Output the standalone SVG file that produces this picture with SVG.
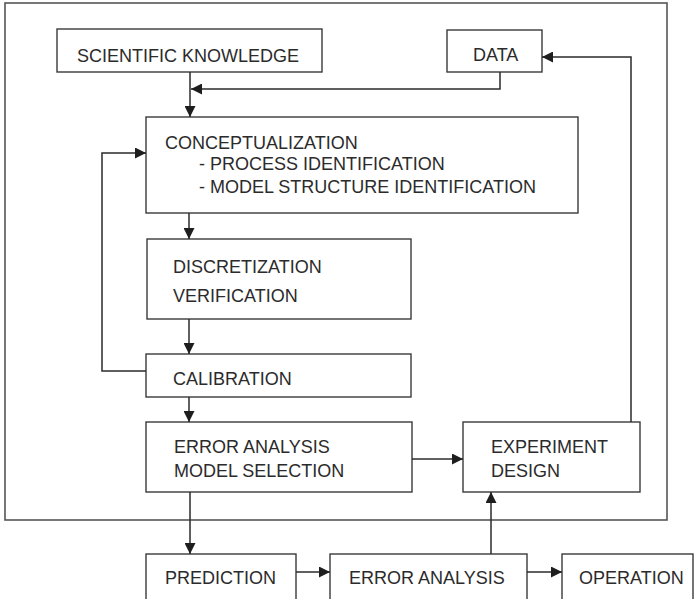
<svg xmlns="http://www.w3.org/2000/svg" width="694" height="599" viewBox="0 0 694 599">
  <style>
    .box { fill: #ffffff; stroke: #3a3a3a; stroke-width: 1.4; }
    .frame { fill: none; stroke: #555555; stroke-width: 1.6; }
    .lbl { font-family: "Liberation Sans", Arial, sans-serif; font-size: 18px; fill: #2b2b2b; }
    .wire { fill: none; stroke: #2b2b2b; stroke-width: 1.5; }
  </style>
  <defs>
    <marker id="arrow" viewBox="0 0 10 10" refX="10" refY="5" markerWidth="11" markerHeight="11" markerUnits="userSpaceOnUse" orient="auto">
      <path d="M0,0 L10,5 L0,10 Z" fill="#1e1e1e"/>
    </marker>
  </defs>
  <rect width="694" height="599" fill="#ffffff"/>

  <!-- enclosing frame of the modelling loop -->
  <rect class="frame" x="5" y="3" width="662" height="517"/>

  <g id="scientific-knowledge">
    <rect class="box" x="57" y="29" width="265" height="43"/>
    <text class="lbl" x="77" y="62">SCIENTIFIC KNOWLEDGE</text>
  </g>

  <g id="data">
    <rect class="box" x="447" y="30" width="95" height="42"/>
    <text class="lbl" x="473" y="61">DATA</text>
  </g>

  <g id="conceptualization">
    <rect class="box" x="146" y="117" width="432" height="96"/>
    <text class="lbl" x="165" y="149">CONCEPTUALIZATION</text>
    <text class="lbl" x="199" y="170">- PROCESS IDENTIFICATION</text>
    <text class="lbl" x="199" y="193">- MODEL STRUCTURE IDENTIFICATION</text>
  </g>

  <g id="discretization">
    <rect class="box" x="147" y="239" width="264" height="80"/>
    <text class="lbl" x="173" y="273">DISCRETIZATION</text>
    <text class="lbl" x="173" y="302">VERIFICATION</text>
  </g>

  <g id="calibration">
    <rect class="box" x="146" y="354" width="265" height="43"/>
    <text class="lbl" x="173" y="385">CALIBRATION</text>
  </g>

  <g id="error-analysis-model-selection">
    <rect class="box" x="146" y="422" width="266" height="70"/>
    <text class="lbl" x="174" y="453">ERROR ANALYSIS</text>
    <text class="lbl" x="174" y="477">MODEL SELECTION</text>
  </g>

  <g id="experiment-design">
    <rect class="box" x="463" y="422" width="177" height="70"/>
    <text class="lbl" x="491" y="453">EXPERIMENT</text>
    <text class="lbl" x="491" y="477">DESIGN</text>
  </g>

  <g id="prediction">
    <rect class="box" x="146" y="554" width="150" height="50"/>
    <text class="lbl" x="165" y="584">PREDICTION</text>
  </g>

  <g id="error-analysis">
    <rect class="box" x="330" y="554" width="197" height="50"/>
    <text class="lbl" x="349" y="584">ERROR ANALYSIS</text>
  </g>

  <g id="operation">
    <rect class="box" x="562" y="554" width="131" height="50"/>
    <text class="lbl" x="579" y="584">OPERATION</text>
  </g>

  <g id="connectors">
    <!-- knowledge and data feed conceptualization -->
    <line class="wire" x1="190" y1="72" x2="190" y2="117" marker-end="url(#arrow)"/>
    <polyline class="wire" points="500,72 500,89 191,89" marker-end="url(#arrow)"/>
    <!-- main chain -->
    <line class="wire" x1="189" y1="213" x2="189" y2="239" marker-end="url(#arrow)"/>
    <line class="wire" x1="189" y1="319" x2="189" y2="354" marker-end="url(#arrow)"/>
    <line class="wire" x1="189" y1="397" x2="189" y2="422" marker-end="url(#arrow)"/>
    <!-- calibration feedback -->
    <polyline class="wire" points="146,371 102,371 102,153 146,153" marker-end="url(#arrow)"/>
    <!-- model selection to experiment design -->
    <line class="wire" x1="412" y1="459" x2="463" y2="459" marker-end="url(#arrow)"/>
    <!-- experiment design back to data -->
    <polyline class="wire" points="631,422 631,57 542,57" marker-end="url(#arrow)"/>
    <!-- application chain -->
    <line class="wire" x1="190" y1="492" x2="190" y2="554" marker-end="url(#arrow)"/>
    <line class="wire" x1="296" y1="572" x2="330" y2="572" marker-end="url(#arrow)"/>
    <line class="wire" x1="527" y1="572" x2="562" y2="572" marker-end="url(#arrow)"/>
    <line class="wire" x1="491" y1="554" x2="491" y2="492" marker-end="url(#arrow)"/>
  </g>
</svg>
